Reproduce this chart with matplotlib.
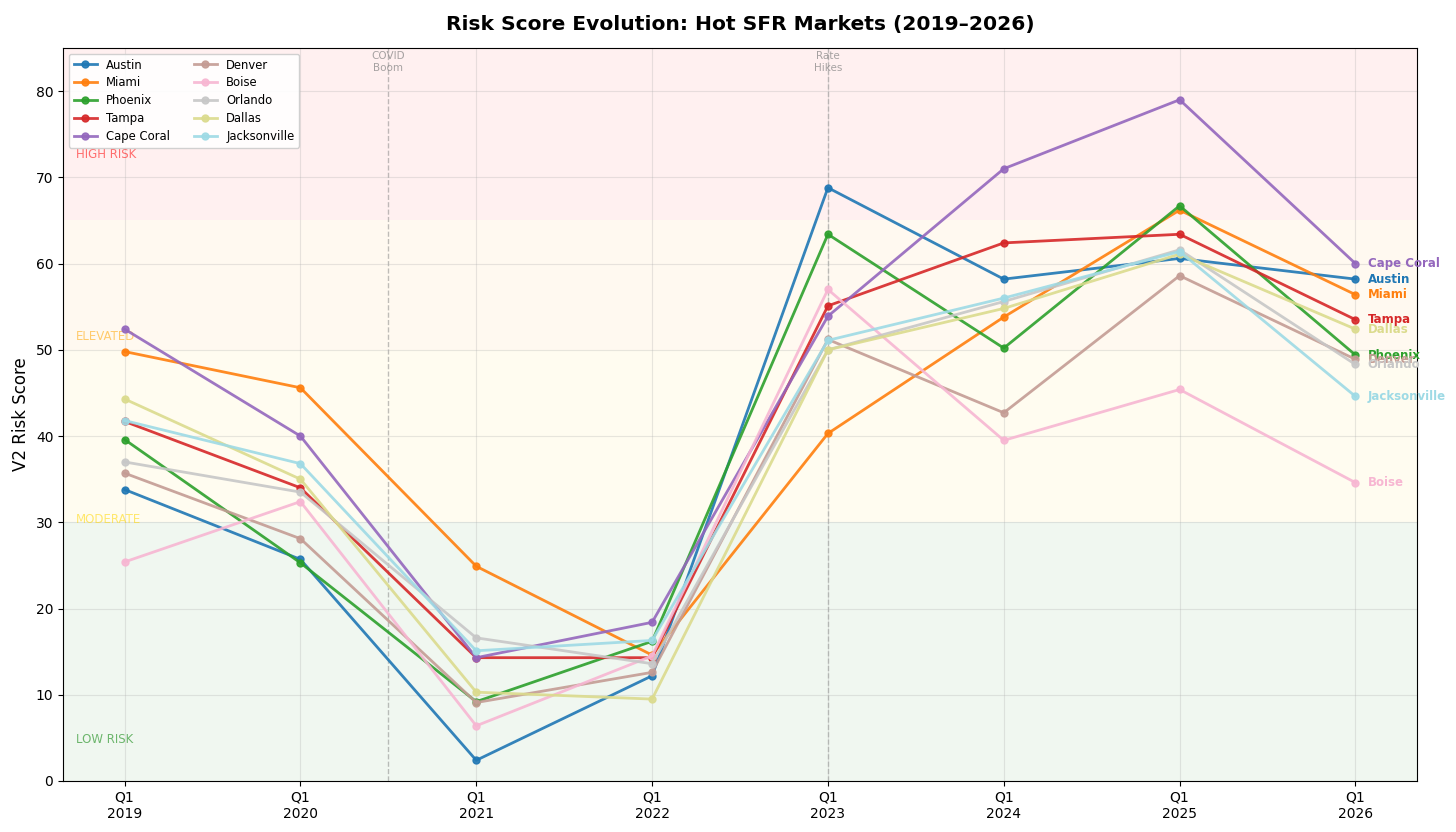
import numpy as np
import matplotlib
matplotlib.use("Agg")
import matplotlib.pyplot as plt

quarters = ["Q1\n2019", "Q1\n2020", "Q1\n2021", "Q1\n2022", "Q1\n2023", "Q1\n2024", "Q1\n2025", "Q1\n2026"]

austin = [33.8, 25.7, 2.4, 12.2, 68.8, 58.2, 60.6, 58.2]
miami = [49.8, 45.6, 24.9, 14.6, 40.3, 53.8, 66.2, 56.4]
phoenix = [39.6, 25.3, 9.2, 16.2, 63.4, 50.2, 66.7, 49.4]
tampa = [41.7, 34.0, 14.3, 14.3, 55.1, 62.4, 63.4, 53.5]
cape_coral = [52.4, 40.0, 14.3, 18.4, 53.9, 71.0, 79.0, 60.0]
denver = [35.7, 28.1, 9.1, 12.6, 51.2, 42.7, 58.6, 48.9]
boise = [25.4, 32.4, 6.4, 14.5, 57.0, 39.5, 45.4, 34.6]
orlando = [37.0, 33.5, 16.6, 13.6, 50.0, 55.6, 61.6, 48.3]
dallas = [44.3, 35.0, 10.3, 9.5, 50.0, 54.8, 61.1, 52.4]
jacksonville = [41.8, 36.8, 15.1, 16.3, 51.1, 56.0, 61.4, 44.6]

markets = ["Austin", "Miami", "Phoenix", "Tampa", "Cape Coral",
           "Denver", "Boise", "Orlando", "Dallas", "Jacksonville"]
series = [austin, miami, phoenix, tampa, cape_coral,
          denver, boise, orlando, dallas, jacksonville]
colors = ["#1f77b4", "#ff7f0e", "#2ca02c", "#d62728", "#9467bd",
          "#c49c94", "#f7b6d2", "#c7c7c7", "#dbdb8d", "#9edae5"]

# risk bands: (low, high, colour, label, label y)
zones = [(0, 30, "green", "LOW RISK", 4.8),
         (30, 50, "gold", "MODERATE", 30.3),
         (50, 65, "orange", "ELEVATED", 51.5),
         (65, 85, "red", "HIGH RISK", 72.7)]

events = [(1.5, "COVID\nBoom"), (4, "Rate\nHikes")]


def main():
    fig, ax = plt.subplots(figsize=(14.56, 8.32), dpi=100)
    fig.subplots_adjust(left=0.0433, right=0.9732, top=0.9423, bottom=0.0613)

    for lo, hi, c, lab, ly in zones:
        ax.axhspan(lo, hi, color=c, alpha=0.06, zorder=0, lw=0)
        ax.text(-0.275, ly, lab, color=c, alpha=0.55, fontsize=8.5, va="center")

    for xv, lab in events:
        ax.axvline(xv, color="gray", ls="--", lw=1, alpha=0.5, zorder=1)
        ax.text(xv, 84.6, lab, ha="center", va="top", fontsize=7.5, color="gray", alpha=0.7)

    x = np.arange(len(quarters))
    for name, vals, c in zip(markets, series, colors):
        ax.plot(x, vals, marker="o", color=c, lw=2, markersize=5, alpha=0.9, label=name, zorder=3)
        ax.text(x[-1] + 0.07, vals[-1], name, color=c, fontsize=8.5, fontweight="bold", va="center")

    ax.set_xticks(x)
    ax.set_xticklabels(quarters, fontsize=10)
    ax.set_xlim(-0.35, 7.35)
    ax.set_ylim(0, 85)
    ax.set_ylabel("V2 Risk Score", fontsize=12)
    ax.set_title("Risk Score Evolution: Hot SFR Markets (2019\u20132026)", fontsize=14.6,
                 fontweight="bold", pad=13)
    ax.grid(True, alpha=0.3)
    ax.legend(loc="upper left", ncol=2, fontsize=8.4, labelspacing=0.42, framealpha=0.9)

    plt.savefig("out.png", dpi=100)


if __name__ == "__main__":
    main()
